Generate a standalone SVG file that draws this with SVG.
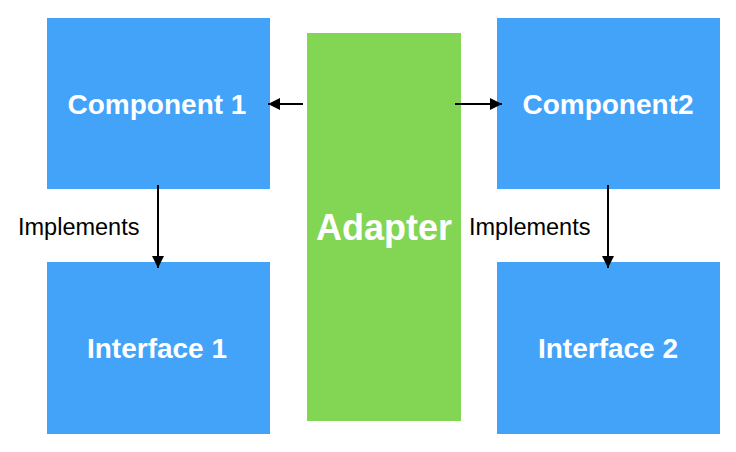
<svg xmlns="http://www.w3.org/2000/svg" width="736" height="452" viewBox="0 0 736 452">
<style>
.box{fill:#42A3F9}
.ad{fill:#83D554}
.t{font-family:"Liberation Sans",Arial,sans-serif;font-weight:bold;fill:#fff;text-anchor:middle}
.l{font-family:"Liberation Sans",Arial,sans-serif;font-size:23.5px;fill:#000}
.c{stroke:#000;stroke-width:2;fill:none;marker-end:url(#ah)}
</style>
<defs>
<marker id="ah" viewBox="0 0 10 10" refX="10" refY="5" markerWidth="6" markerHeight="6" orient="auto" markerUnits="strokeWidth">
<path d="M0,0 L10,5 L0,10 z" fill="#000"/>
</marker>
</defs>
<rect width="736" height="452" fill="#fff"/>
<g id="component1"><rect class="box" x="47" y="18" width="223" height="171"/><text class="t" x="157" y="114" font-size="28">Component 1</text></g>
<g id="component2"><rect class="box" x="497" y="18" width="223" height="171"/><text class="t" x="608" y="114" font-size="28">Component2</text></g>
<g id="interface1"><rect class="box" x="47" y="262" width="223" height="172"/><text class="t" x="157" y="358" font-size="28">Interface 1</text></g>
<g id="interface2"><rect class="box" x="497" y="262" width="223" height="172"/><text class="t" x="608" y="358" font-size="28">Interface 2</text></g>
<g id="adapter"><rect class="ad" x="307" y="33" width="154" height="388"/><text class="t" x="384" y="240" font-size="36">Adapter</text></g>
<g id="connectors">
<line class="c" x1="303" y1="104" x2="268" y2="104"/>
<line class="c" x1="455" y1="104" x2="502" y2="104"/>
<line class="c" x1="158" y1="185" x2="158" y2="268"/>
<line class="c" x1="608" y1="185" x2="608" y2="268"/>
<text class="l" x="18" y="235">Implements</text>
<text class="l" x="469" y="235">Implements</text>
</g>
</svg>
